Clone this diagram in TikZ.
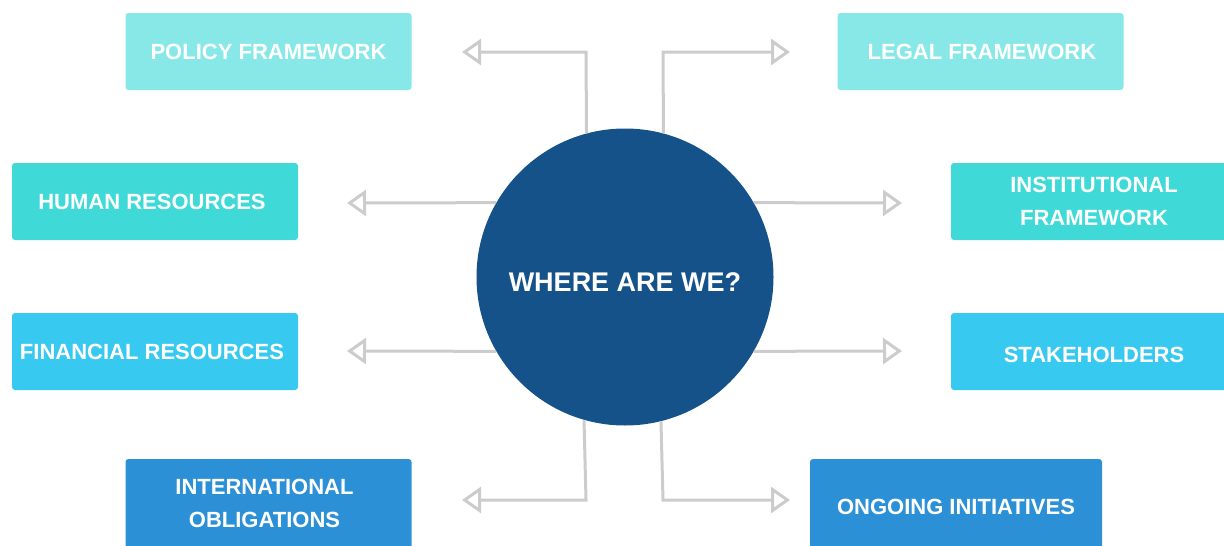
\documentclass[tikz,border=0pt]{standalone}
\usepackage{fontspec}
\setmainfont{Liberation Sans}
\usetikzlibrary{arrows.meta}
\definecolor{hubblue}{HTML}{15528A}
\definecolor{palecyan}{HTML}{88E8E7}
\definecolor{turq}{HTML}{3FDAD8}
\definecolor{skyc}{HTML}{38C9F0}
\definecolor{midblue}{HTML}{2C90D6}
\definecolor{linkgray}{HTML}{CCCCCC}
% shift a label vertically while keeping its box size for centering
\newcommand{\nudge}[2]{\raisebox{#1}[\height][\depth]{#2}}
\begin{document}
\begin{tikzpicture}[x=1pt,y=-1pt,
  topic/.style={rounded corners=3pt, minimum height=77pt, minimum width=286pt,
    inner sep=0pt, text=white, align=center,
    font=\fontsize{22}{33}\selectfont\bfseries},
  hub/.style={circle, fill=hubblue, minimum size=297pt, inner sep=0pt,
    text=white, font=\fontsize{27}{32}\selectfont\bfseries},
  link/.style={draw=linkgray, line width=3pt,
    -{Triangle[open, length=19pt, width=26pt]}}]
\useasboundingbox (0,0) rectangle (1224,546);

% topic boxes
\node[topic, fill=palecyan] (policy) at (268.5,51.5) {POLICY FRAMEWORK};
\node[topic, fill=palecyan] (legal) at (980.5,51.5) {\hspace*{3pt}LEGAL FRAMEWORK};
\node[topic, fill=turq] (human) at (155,201.5) {HUMAN RESOURCES\hspace*{6pt}};
\node[topic, fill=turq] (inst) at (1094,201.5) {INSTITUTIONAL\\FRAMEWORK};
\node[topic, fill=skyc] (fin) at (155,351.5) {FINANCIAL RESOURCES\hspace*{6pt}};
\node[topic, fill=skyc] (stake) at (1094,351.5) {\nudge{-3pt}{STAKEHOLDERS}};
\node[topic, fill=midblue, minimum height=96pt] (intl) at (268.5,507)
  {\nudge{3pt}{\begin{tabular}{@{}c@{}}INTERNATIONAL\\OBLIGATIONS\end{tabular}}\hspace*{8pt}};
\node[topic, fill=midblue, minimum height=96pt, minimum width=292pt] (ongoing) at (956,507) {ONGOING INITIATIVES};

% central hub
\node[hub] (c) at (625,277) {\nudge{-5pt}{WHERE ARE WE?}};

% arrow ends and elbows
\coordinate (tlBend) at (586,52);
\coordinate (tlTip) at (462,52);
\coordinate (trBend) at (663,52);
\coordinate (trTip) at (790,52);
\coordinate (blBend) at (586,500);
\coordinate (blTip) at (462,500);
\coordinate (brBend) at (663,500);
\coordinate (brTip) at (790,500);
\coordinate (hrTip) at (347,203);
\coordinate (inTip) at (902,203);
\coordinate (frTip) at (347,351);
\coordinate (stTip) at (902,351);

% connectors
\draw[link] (c.105.3) -- (tlBend) -- (tlTip);
\draw[link] (c.75.1) -- (trBend) -- (trTip);
\draw[link] (c.254.7) -- (blBend) -- (blTip);
\draw[link] (c.284.9) -- (brBend) -- (brTip);
\draw[link] (c.150) -- (hrTip);
\draw[link] (c.30) -- (inTip);
\draw[link] (c.210) -- (frTip);
\draw[link] (c.330) -- (stTip);
\end{tikzpicture}
\end{document}
